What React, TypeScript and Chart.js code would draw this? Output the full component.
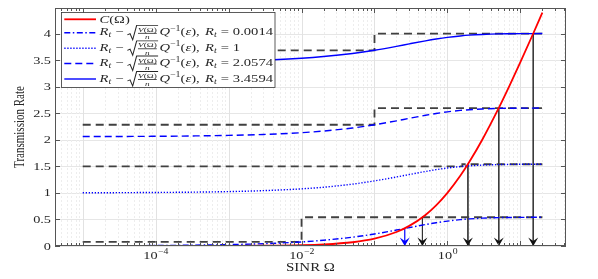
import React, { useEffect, useRef } from "react";
import { Chart, registerables } from "chart.js";

Chart.register(...registerables);

// ---------------- data ----------------
const omega = [1e-5, 3e-5, 1e-4, 3e-4, 1e-3, 3e-3, 0.01, 0.02, 0.05, 0.1, 0.2, 0.3, 0.5, 0.7, 1, 1.5, 2, 3, 5, 7, 10, 15, 20];
const capacity = [0.00001, 0.00004, 0.00014, 0.00043, 0.0014, 0.0043, 0.0144, 0.0286, 0.0704, 0.1375, 0.263, 0.3785, 0.585, 0.7655, 1.0, 1.322, 1.585, 2.0, 2.585, 3.0, 3.459, 4.0, 4.392];
const rate00014 = [0.004, 0.006, 0.009, 0.015, 0.026, 0.043, 0.077, 0.108, 0.166, 0.226, 0.3, 0.346, 0.404, 0.438, 0.469, 0.496, 0.51, 0.524, 0.534, 0.537, 0.539, 0.54, 0.541];
const rate1 = [1.002, 1.004, 1.008, 1.013, 1.024, 1.042, 1.076, 1.106, 1.165, 1.225, 1.299, 1.345, 1.403, 1.437, 1.468, 1.495, 1.509, 1.523, 1.532, 1.536, 1.538, 1.539, 1.539];
const rate20574 = [2.06, 2.062, 2.065, 2.071, 2.082, 2.099, 2.133, 2.164, 2.222, 2.282, 2.356, 2.403, 2.46, 2.494, 2.525, 2.552, 2.566, 2.58, 2.59, 2.593, 2.595, 2.596, 2.597];
const rate34594 = [3.462, 3.464, 3.467, 3.473, 3.484, 3.501, 3.535, 3.566, 3.624, 3.684, 3.758, 3.805, 3.862, 3.896, 3.927, 3.954, 3.969, 3.982, 3.992, 3.995, 3.997, 3.998, 3.999];

const stepStart = 1e-5;
const stepEnd = 20;
const stepSwitch = [0.1, 0.1, 1.6, 0.01];
const stepLow = [3.684, 2.282, 1.5, 0.077];
const stepHigh = [3.999, 2.597, 1.539, 0.541];

const arrowOmega = [0.26, 0.454, 1.908, 5.06, 15];
const arrowTop = [0.33, 0.54, 1.54, 2.6, 4.0];
const arrowColors = ["#0000ff", "#333333", "#333333", "#333333", "#333333"];

const rtLabels = ["0.0014", "1", "2.0574", "3.4594"];
const yTickValues = [0, 0.5, 1, 1.5, 2, 2.5, 3, 3.5, 4];
const yTickLabels = ["0", "0.5", "1", "1.5", "2", "2.5", "3", "3.5", "4"];
const xTickExponents = [-4, -2, 0];
const xTickExpLabels = ["\u22124", "\u22122", "0"];
const xMin = 4.17e-6;
const xMax = 42.2;
const yMin = 0;
const yMax = 4.48;

// ---------------- styling helpers ----------------
const FONT = '"Liberation Serif", "DejaVu Serif", serif';
const TXT = "#262626";
const SX = 1.3;

function setFont(ctx: CanvasRenderingContext2D, size: number, italic?: boolean) {
  ctx.font = `${italic ? "italic " : ""}${size}px ${FONT}`;
}

function drawStr(ctx: CanvasRenderingContext2D, s: string, x: number, y: number, size: number, align: string, italic?: boolean, sx = SX) {
  ctx.save();
  setFont(ctx, size, italic);
  const w = ctx.measureText(s).width * sx;
  const x0 = align === "center" ? x - w / 2 : align === "right" ? x - w : x;
  ctx.translate(x0, y);
  ctx.scale(sx, 1);
  ctx.textAlign = "left";
  ctx.textBaseline = "alphabetic";
  ctx.fillStyle = TXT;
  ctx.fillText(s, 0, 0);
  ctx.restore();
  return w;
}

type Piece = { t?: string; s?: number; i?: boolean; dy?: number; gap?: number; frac?: boolean };

function mathRow(rt: string): Piece[] {
  return [
    { t: "R", s: 11, i: true }, { t: "t", s: 7.5, i: true, dy: 2 }, { gap: 3 }, { t: "\u2212", s: 11 }, { gap: 3 },
    { frac: true }, { t: "Q", s: 11, i: true }, { t: "\u22121", s: 7.5, dy: -4.5 }, { t: "(", s: 11 }, { t: "\u03b5", s: 11, i: true }, { t: "),", s: 11 }, { gap: 4 },
    { t: "R", s: 11, i: true }, { t: "t", s: 7.5, i: true, dy: 2 }, { gap: 3 }, { t: "=", s: 11 }, { gap: 3 }, { t: rt, s: 11 },
  ];
}

function drawPieces(ctx: CanvasRenderingContext2D, pieces: Piece[], x0: number, baseline: number, yc: number, sx: number, measureOnly: boolean) {
  let x = 0;
  ctx.save();
  ctx.fillStyle = TXT;
  ctx.textAlign = "left";
  ctx.textBaseline = "alphabetic";
  if (!measureOnly) {
    ctx.translate(x0, 0);
    ctx.scale(sx, 1);
  }
  for (const p of pieces) {
    if (p.gap) { x += p.gap; continue; }
    if (p.frac) {
      setFont(ctx, 7, true); const wV = ctx.measureText("V").width;
      setFont(ctx, 7, false); const wO = ctx.measureText("(\u03a9)").width;
      setFont(ctx, 7, true); const wn = ctx.measureText("n").width;
      const fw = wV + wO;
      const rad = 7;
      if (!measureOnly) {
        ctx.strokeStyle = TXT;
        ctx.lineWidth = 0.8;
        ctx.beginPath();
        ctx.moveTo(x, yc + 2);
        ctx.lineTo(x + 2, yc + 0.8);
        ctx.lineTo(x + 4, yc + 7);
        ctx.lineTo(x + rad, yc - 7.5);
        ctx.lineTo(x + rad + fw + 2, yc - 7.5);
        ctx.stroke();
        const fx = x + rad + 1;
        ctx.beginPath();
        ctx.moveTo(fx, yc + 0.5);
        ctx.lineTo(fx + fw, yc + 0.5);
        ctx.stroke();
        setFont(ctx, 7, true); ctx.fillText("V", fx, yc - 1);
        setFont(ctx, 7, false); ctx.fillText("(\u03a9)", fx + wV, yc - 1);
        setFont(ctx, 7, true); ctx.fillText("n", fx + (fw - wn) / 2, yc + 6.5);
      }
      x += rad + fw + 3;
      continue;
    }
    setFont(ctx, p.s as number, p.i);
    if (!measureOnly) ctx.fillText(p.t as string, x, baseline + (p.dy || 0));
    x += ctx.measureText(p.t as string).width;
  }
  ctx.restore();
  return x;
}

function xGridValues(): { v: number; major: boolean }[] {
  const out: { v: number; major: boolean }[] = [];
  for (let k = -6; k <= 2; k++) {
    for (let m = 1; m <= 9; m++) {
      const v = m * Math.pow(10, k);
      if (v > xMin && v < xMax) out.push({ v, major: m === 1 });
    }
  }
  return out;
}

const legendItems = [
  { color: "#ff0000", dash: [] as number[], width: 1.8 },
  { color: "#0000ff", dash: [6, 2.5, 1.5, 2.5], width: 1.4 },
  { color: "#0000ff", dash: [1.3, 1.7], width: 1.4 },
  { color: "#0000ff", dash: [7, 4], width: 1.4 },
  { color: "#0000ff", dash: [] as number[], width: 1.4 },
];
const legendRowY = [19.3, 32.8, 48.3, 63.5, 79];

const decorPlugin = {
  id: "decor",
  beforeDatasetsDraw(chart: any) {
    const { ctx, chartArea: a, scales } = chart;
    const xs = scales.x, ys = scales.y;
    ctx.save();
    ctx.lineWidth = 1;
    ctx.strokeStyle = "#e6e6e6";
    for (const v of yTickValues) {
      const py = Math.round(ys.getPixelForValue(v)) + 0.5;
      ctx.beginPath(); ctx.moveTo(a.left, py); ctx.lineTo(a.right, py); ctx.stroke();
    }
    for (const g of xGridValues()) {
      const px = Math.round(xs.getPixelForValue(g.v)) + 0.5;
      ctx.setLineDash(g.major ? [] : [2, 2]);
      ctx.strokeStyle = g.major ? "#e2e2e2" : "#ededed";
      ctx.beginPath(); ctx.moveTo(px, a.top); ctx.lineTo(px, a.bottom); ctx.stroke();
    }
    ctx.restore();
  },
  afterDraw(chart: any) {
    const { ctx, chartArea: a, scales } = chart;
    const xs = scales.x, ys = scales.y;
    ctx.save();

    // arrow heads
    chart.data.datasets.forEach((ds: any, i: number) => {
      if (!ds.arrow) return;
      const meta = chart.getDatasetMeta(i);
      const el = meta.data[meta.data.length - 1];
      const tx = el.x, ty = el.y;
      ctx.fillStyle = ds.borderColor === "#0000ff" ? "#0000ff" : "#111111";
      ctx.beginPath();
      ctx.moveTo(tx, ty);
      ctx.lineTo(tx - 5, ty - 8.5);
      ctx.lineTo(tx, ty - 5);
      ctx.lineTo(tx + 5, ty - 8.5);
      ctx.closePath();
      ctx.fill();
    });

    // box
    ctx.strokeStyle = "#555555";
    ctx.lineWidth = 1;
    ctx.strokeRect(a.left + 0.5, a.top + 0.5, a.right - a.left - 1, a.bottom - a.top - 1);

    // tick marks (inward)
    ctx.beginPath();
    for (const v of yTickValues) {
      const py = Math.round(ys.getPixelForValue(v)) + 0.5;
      ctx.moveTo(a.left, py); ctx.lineTo(a.left + 5, py);
      ctx.moveTo(a.right, py); ctx.lineTo(a.right - 5, py);
    }
    for (const g of xGridValues()) {
      const px = Math.round(xs.getPixelForValue(g.v)) + 0.5;
      const len = g.major ? 5 : 3;
      ctx.moveTo(px, a.bottom); ctx.lineTo(px, a.bottom - len);
      ctx.moveTo(px, a.top); ctx.lineTo(px, a.top + len);
    }
    ctx.stroke();

    // y tick labels
    yTickValues.forEach((v, i) => {
      const py = ys.getPixelForValue(v);
      drawStr(ctx, yTickLabels[i], a.left - 4, py + 3.6, 11, "right");
    });

    // x tick labels 10^k
    xTickExponents.forEach((k, i) => {
      const px = xs.getPixelForValue(Math.pow(10, k));
      setFont(ctx, 11);
      const w1 = ctx.measureText("10").width * SX;
      setFont(ctx, 7.5);
      const w2 = ctx.measureText(xTickExpLabels[i]).width * SX;
      const x0 = px - (w1 + w2) / 2;
      drawStr(ctx, "10", x0, 258.6, 11, "left");
      drawStr(ctx, xTickExpLabels[i], x0 + w1 + 0.5, 254, 7.5, "left");
    });

    // axis titles
    drawStr(ctx, "SINR \u03a9", (a.left + a.right) / 2, 270.8, 11.5, "center");
    ctx.save();
    ctx.translate(23.5, (a.top + a.bottom) / 2);
    ctx.rotate(-Math.PI / 2);
    ctx.scale(1, SX);
    setFont(ctx, 11);
    ctx.fillStyle = TXT;
    ctx.textAlign = "center";
    ctx.textBaseline = "alphabetic";
    ctx.fillText("Transmission Rate", 0, 0);
    ctx.restore();

    // legend
    const bx = 61.5, by = 12.5, bw = 213.5, bh = 75;
    ctx.fillStyle = "#ffffff";
    ctx.fillRect(bx, by, bw, bh);
    ctx.strokeStyle = "#333333";
    ctx.lineWidth = 0.8;
    ctx.strokeRect(bx, by, bw, bh);

    legendItems.forEach((it, i) => {
      const yc = legendRowY[i];
      ctx.save();
      ctx.strokeStyle = it.color;
      ctx.lineWidth = it.width;
      ctx.setLineDash(it.dash);
      ctx.beginPath(); ctx.moveTo(64.3, yc); ctx.lineTo(96, yc); ctx.stroke();
      ctx.restore();
    });

    const natural = drawPieces(ctx, mathRow(rtLabels[0]), 0, 0, 0, 1, true);
    const sxRow = 173.5 / natural;
    drawPieces(ctx, [{ t: "C", s: 11, i: true }, { t: "(\u03a9)", s: 11 }], 99.5, legendRowY[0] + 3.2, legendRowY[0], sxRow, false);
    rtLabels.forEach((rt, i) => {
      const yc = legendRowY[i + 1];
      drawPieces(ctx, mathRow(rt), 99.5, yc + 2.6, yc, sxRow, false);
    });

    ctx.restore();
  },
};

export default function App() {
  const ref = useRef<HTMLCanvasElement | null>(null);
  useEffect(() => {
    if (!ref.current) return;
    const pts = (ys: number[]) => omega.map((x, i) => ({ x, y: ys[i] }));
    const curve = (label: string, ys: number[], color: string, dash: number[], width: number) => ({
      label, data: pts(ys), borderColor: color, borderDash: dash, borderWidth: width,
      pointRadius: 0, cubicInterpolationMode: "monotone", fill: false,
    });
    const steps = stepSwitch.map((sw, i) => ({
      label: `step${i}`,
      data: [
        { x: stepStart, y: stepLow[i] },
        { x: sw, y: stepLow[i] },
        { x: sw, y: stepHigh[i] },
        { x: stepEnd, y: stepHigh[i] },
      ],
      borderColor: "#404040", borderDash: [8, 5], borderWidth: 1.8, pointRadius: 0, tension: 0, fill: false,
    }));
    const arrows = arrowOmega.map((ax, i) => ({
      label: `arrow${i}`,
      arrow: true,
      data: [{ x: ax, y: arrowTop[i] }, { x: ax, y: 0 }],
      borderColor: arrowColors[i], borderWidth: i === 0 ? 1.2 : 0.9, pointRadius: 0, tension: 0, fill: false,
    }));
    const chart = new Chart(ref.current, {
      type: "line",
      data: {
        datasets: [
          curve("C(Ω)", capacity, "#ff0000", [], 1.8),
          curve("Rt=0.0014", rate00014, "#0000ff", [6, 2.5, 1.5, 2.5], 1.4),
          curve("Rt=1", rate1, "#0000ff", [1.3, 1.7], 1.4),
          curve("Rt=2.0574", rate20574, "#0000ff", [7, 4], 1.4),
          curve("Rt=3.4594", rate34594, "#0000ff", [], 1.4),
          ...steps,
          ...arrows,
        ] as any,
      },
      options: {
        responsive: false,
        animation: false,
        devicePixelRatio: 1,
        layout: { padding: { top: 8, right: 32, left: 0, bottom: 0 } },
        plugins: { legend: { display: false }, tooltip: { enabled: false } },
        scales: {
          x: {
            type: "logarithmic",
            min: xMin,
            max: xMax,
            grid: { display: false },
            border: { display: false },
            ticks: { display: false },
            afterFit: (s: any) => { s.height = 33; },
          },
          y: {
            type: "linear",
            min: yMin,
            max: yMax,
            grid: { display: false },
            border: { display: false },
            ticks: { display: false, stepSize: 0.5, includeBounds: false },
            afterFit: (s: any) => { s.width = 55; },
          },
        },
      } as any,
      plugins: [decorPlugin],
    });
    return () => chart.destroy();
  }, []);
  return (
    <div style={{ position: "absolute", left: 0, top: 0, width: 598, height: 279, background: "#fff" }}>
      <canvas ref={ref} width={598} height={279} style={{ display: "block" }} />
    </div>
  );
}
